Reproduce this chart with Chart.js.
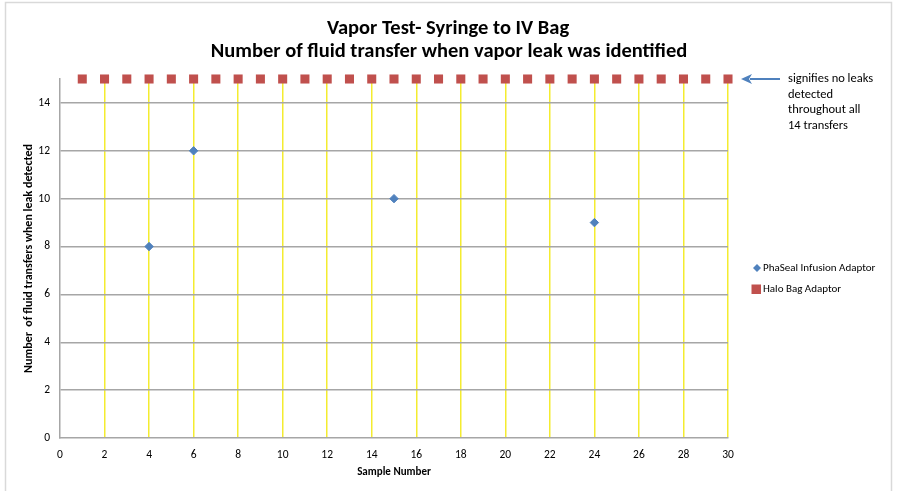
<!DOCTYPE html>
<html>
<head>
<meta charset="utf-8">
<script src="https://cdn.jsdelivr.net/npm/chart.js@4.4.1/dist/chart.umd.min.js"></script>
<style>
  html, body { margin: 0; padding: 0; background: #fff; }
  #wrap { width: 901px; height: 491px; position: relative; }
</style>
</head>
<body>
<div id="wrap"><canvas id="chart"></canvas></div>
<script>
const titleLines = ['Vapor Test- Syringe to IV Bag', 'Number of fluid transfer when vapor leak was identified'];
const noteLines = ['signifies no leaks', 'detected', 'throughout all', '14 transfers'];

// PhaSeal: sample number where leak was found, transfer count
const phasealSamples = [4, 6, 15, 24];
const phasealTransfers = [8, 12, 10, 9];

// Halo: no leaks in any sample, plotted at top of scale
const haloSamples = [1,2,3,4,5,6,7,8,9,10,11,12,13,14,15,16,17,18,19,20,21,22,23,24,25,26,27,28,29,30];
const haloValue = 15;

const blue = '#4F81BD';
const red = '#C0504D';
const font = 'Carlito, Calibri, Lato, sans-serif';

const phasealPoints = phasealSamples.map((x, i) => ({x: x, y: phasealTransfers[i]}));
const haloPoints = haloSamples.map(x => ({x: x, y: haloValue}));

// title, legend, annotation and frame
const extras = {
    id: 'extras',
    afterDraw(chart) {
        const ctx = chart.ctx;
        ctx.save();

        // outer frame
        ctx.strokeStyle = '#D9D9D9';
        ctx.lineWidth = 1.5;
        ctx.beginPath();
        ctx.moveTo(5.5, 500);
        ctx.lineTo(5.5, 2.5);
        ctx.lineTo(891.5, 2.5);
        ctx.lineTo(891.5, 500);
        ctx.stroke();

        // title
        ctx.fillStyle = '#000';
        ctx.font = 'bold 20.5px ' + font;
        ctx.textAlign = 'center';
        ctx.textBaseline = 'middle';
        ctx.fillText(titleLines[0], 448, 29);
        ctx.fillText(titleLines[1], 449, 52);

        // legend
        ctx.font = '11px ' + font;
        ctx.textAlign = 'left';
        ctx.fillStyle = blue;
        ctx.beginPath();
        ctx.moveTo(757, 264); ctx.lineTo(761, 268); ctx.lineTo(757, 272); ctx.lineTo(753, 268);
        ctx.closePath(); ctx.fill();
        ctx.fillStyle = red;
        ctx.fillRect(751.5, 284.5, 9.5, 9.5);
        ctx.fillStyle = '#000';
        ctx.fillText('PhaSeal Infusion Adaptor', 763, 268);
        ctx.fillText('Halo Bag Adaptor', 763, 289);

        // annotation arrow
        const ay = chart.scales.y.getPixelForValue(haloValue);
        ctx.strokeStyle = blue;
        ctx.fillStyle = blue;
        ctx.lineWidth = 2;
        ctx.beginPath();
        ctx.moveTo(750, ay); ctx.lineTo(780, ay);
        ctx.stroke();
        ctx.beginPath();
        ctx.moveTo(741, ay); ctx.lineTo(752, ay - 5); ctx.lineTo(749, ay); ctx.lineTo(752, ay + 5);
        ctx.closePath(); ctx.fill();

        ctx.fillStyle = '#000';
        ctx.font = '12.5px ' + font;
        noteLines.forEach((t, i) => ctx.fillText(t, 788, ay + i * 15.5));
        ctx.restore();
    }
};

new Chart(document.getElementById('chart'), {
    type: 'scatter',
    data: {
        datasets: [
            {
                label: 'PhaSeal Infusion Adaptor',
                data: phasealPoints,
                backgroundColor: blue,
                borderColor: blue,
                pointStyle: 'rectRot',
                pointRadius: 4.2,
                pointHoverRadius: 4.2,
                clip: false
            },
            {
                label: 'Halo Bag Adaptor',
                data: haloPoints,
                backgroundColor: red,
                borderColor: red,
                borderWidth: 0,
                pointStyle: 'rect',
                pointRadius: 6.4,
                pointHoverRadius: 6.4,
                clip: false
            }
        ]
    },
    options: {
        responsive: true,
        maintainAspectRatio: false,
        animation: false,
        layout: { padding: { left: 22, right: 173, top: 79, bottom: 12 } },
        plugins: {
            legend: { display: false },
            title: { display: false },
            tooltip: { enabled: false }
        },
        scales: {
            x: {
                type: 'linear',
                min: 0,
                max: 30,
                afterFit: s => { s.height = 41; },
                ticks: { stepSize: 2, color: '#000', font: { family: font, size: 11.5 }, padding: 10, maxRotation: 0 },
                grid: {
                    color: ctx => ctx.tick && ctx.tick.value === 0 ? 'rgba(0,0,0,0)' : '#F4EC30',
                    lineWidth: 1.5,
                    drawTicks: false
                },
                border: { color: '#A6A6A6', width: 1.5 },
                title: { display: true, text: 'Sample Number', color: '#000', font: { family: font, size: 11, weight: 'bold' }, padding: { top: 4, bottom: 0 } }
            },
            y: {
                min: 0,
                max: 15,
                afterFit: s => { s.width = 38; },
                afterBuildTicks: s => { s.ticks = s.ticks.filter(t => t.value <= 14); },
                ticks: { stepSize: 2, color: '#000', font: { family: font, size: 11.5 }, padding: 10 },
                grid: {
                    color: ctx => ctx.tick && ctx.tick.value === 0 ? 'rgba(0,0,0,0)' : '#A6A6A6',
                    lineWidth: 1.5,
                    drawTicks: false
                },
                border: { color: '#A6A6A6', width: 1.5 },
                title: { display: true, text: 'Number  of fluid transfers when leak detected', color: '#000', font: { family: font, size: 12, weight: 'bold' }, padding: { top: 0, bottom: 0 } }
            }
        }
    },
    plugins: [extras]
});
</script>
</body>
</html>
